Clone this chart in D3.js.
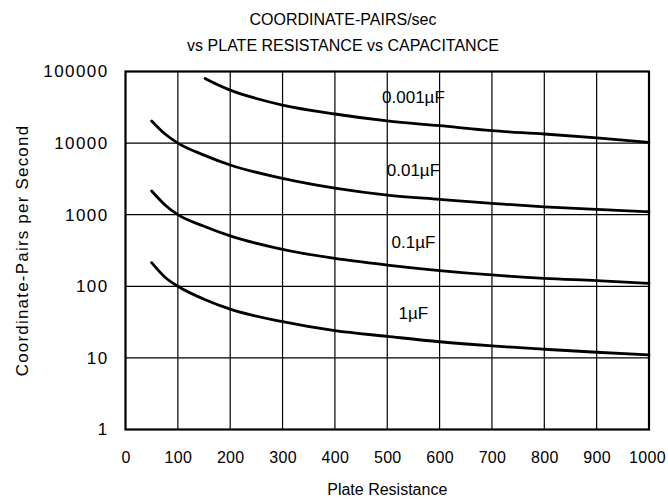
<!DOCTYPE html>
<html>
<head>
<meta charset="utf-8">
<script src="https://cdn.jsdelivr.net/npm/d3@7"></script>
<style>
  body { margin: 0; background: #fff; }
  text { font-family: "Liberation Sans", Arial, sans-serif; fill: #000; }
</style>
</head>
<body>
<div id="chart"></div>
<script>
// Data
// ============================================================================
const xTicks = [0, 100, 200, 300, 400, 500, 600, 700, 800, 900, 1000];
const yTicks = [1, 10, 100, 1000, 10000, 100000];

const resistance = [50, 75, 100, 150, 200, 300, 400, 500, 600, 700, 800, 900, 1000];
const resistance001 = [152, 175, 200, 250, 300, 400, 500, 600, 700, 800, 900, 1000];

const pairs001 = [80000, 66000, 55000, 42000, 34000, 25500, 20400, 17500, 14900, 13400, 11800, 10200];
const pairs01 = [20400, 13500, 10000, 6800, 4940, 3220, 2350, 1880, 1640, 1440, 1290, 1190, 1100];
const pairs1 = [2140, 1380, 1000, 690, 505, 329, 245, 198, 166, 144, 129, 120, 110];
const pairs10 = [214, 135, 100, 66, 48, 32, 24, 20, 16.8, 14.7, 13.2, 12, 11];

const seriesNames = ["0.001\u00b5F", "0.01\u00b5F", "0.1\u00b5F", "1\u00b5F"];
const labelAt = [550, 550, 550, 550];
const labelValue = [42000, 4000, 400, 41];

const series = [
    resistance001.map((r, i) => ({x: r, y: pairs001[i]})),
    resistance.map((r, i) => ({x: r, y: pairs01[i]})),
    resistance.map((r, i) => ({x: r, y: pairs1[i]})),
    resistance.map((r, i) => ({x: r, y: pairs10[i]})),
];

// Layout
// ============================================================================
const W = 668, H = 499,
    margin = {top: 71.5, right: 19, bottom: 69.5, left: 125.5},
    width = W - margin.left - margin.right,
    height = H - margin.top - margin.bottom;

const svg = d3.select("#chart").append("svg")
    .attr("width", W)
    .attr("height", H);

const g = svg.append("g")
    .attr("transform", "translate(" + margin.left + "," + margin.top + ")");

const xScale = d3.scaleLinear().domain([0, 1000]).range([0, width]);
const yScale = d3.scaleLog().domain([1, 100000]).range([height, 0]);

// Grid
g.append("g")
    .selectAll("line")
    .data(xTicks.slice(1, -1))
    .enter().append("line")
        .attr("x1", d => xScale(d)).attr("x2", d => xScale(d))
        .attr("y1", 0).attr("y2", height)
        .attr("stroke", "#000").attr("stroke-width", 1.2);

g.append("g")
    .selectAll("line")
    .data(yTicks.slice(1, -1))
    .enter().append("line")
        .attr("x1", 0).attr("x2", width)
        .attr("y1", d => yScale(d)).attr("y2", d => yScale(d))
        .attr("stroke", "#000").attr("stroke-width", 1.2);

// Axes (labels only, the frame is drawn below)
const xAxis = g.append("g")
    .attr("transform", "translate(0," + height + ")")
    .call(d3.axisBottom(xScale).tickValues(xTicks).tickSize(0).tickPadding(22).tickFormat(d3.format("d")));
xAxis.select(".domain").remove();
xAxis.selectAll("text").style("font-size", "16px").style("letter-spacing", "0.3px");
xAxis.selectAll("text").filter(d => d === 1000).attr("dx", -2);

const yAxis = g.append("g")
    .call(d3.axisLeft(yScale).tickValues(yTicks).tickSize(0).tickPadding(17).tickFormat(d3.format("d")));
yAxis.select(".domain").remove();
yAxis.selectAll("text").style("font-size", "17px").style("letter-spacing", "1.4px");

// Frame
g.append("rect")
    .attr("width", width).attr("height", height)
    .attr("fill", "none").attr("stroke", "#000").attr("stroke-width", 2.2);

// Curves
const line = d3.line()
    .x(d => xScale(d.x))
    .y(d => yScale(d.y))
    .curve(d3.curveMonotoneX);

g.selectAll(".curve")
    .data(series)
    .enter().append("path")
        .attr("class", "curve")
        .attr("d", line)
        .attr("fill", "none")
        .attr("stroke", "#000")
        .attr("stroke-width", 2.8)
        .attr("stroke-linecap", "round");

// Curve labels
g.selectAll(".clabel")
    .data(seriesNames)
    .enter().append("text")
        .attr("class", "clabel")
        .attr("x", (d, i) => xScale(labelAt[i]))
        .attr("y", (d, i) => yScale(labelValue[i]))
        .attr("text-anchor", "middle")
        .attr("dominant-baseline", "middle")
        .style("font-size", "17px")
        .text(d => d);

// Titles
svg.append("text")
    .attr("x", 343).attr("y", 25)
    .attr("text-anchor", "middle")
    .style("font-size", "16px")
    .text("COORDINATE-PAIRS/sec");

svg.append("text")
    .attr("x", 343).attr("y", 51)
    .attr("text-anchor", "middle")
    .style("font-size", "16px")
    .text("vs PLATE RESISTANCE vs CAPACITANCE");

svg.append("text")
    .attr("x", margin.left + width / 2).attr("y", 495)
    .attr("text-anchor", "middle")
    .style("font-size", "16px")
    .text("Plate Resistance");

svg.append("text")
    .attr("transform", "translate(28," + (margin.top + height / 2) + ") rotate(-90)")
    .attr("text-anchor", "middle")
    .style("font-size", "17px")
    .style("letter-spacing", "1.2px")
    .text("Coordinate-Pairs per Second");
</script>
</body>
</html>
